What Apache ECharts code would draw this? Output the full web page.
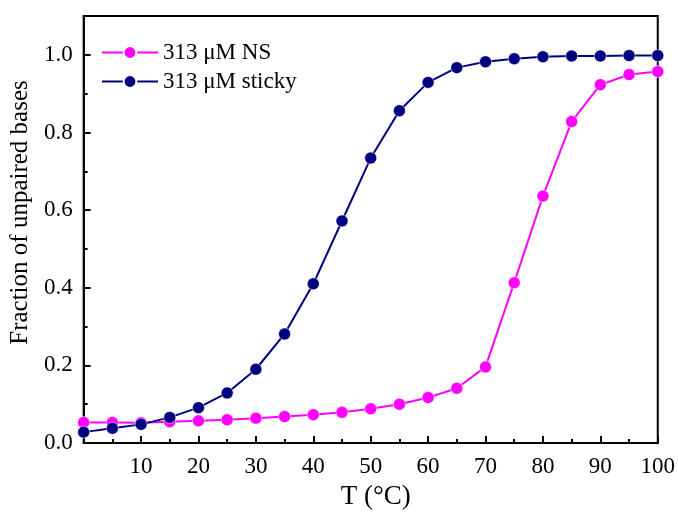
<!DOCTYPE html>
<html>
<head>
<meta charset="UTF-8">
<title>melting curves</title>
<script src="https://cdn.jsdelivr.net/npm/echarts@6/dist/echarts.min.js"></script>
<style>
  html, body { margin: 0; padding: 0; background: #fff; }
  #content { width: 678px; height: 515px; }
</style>
</head>
<body>
<div id="content"></div>
<script>
// temperatures (°C)
var temps = [0, 5, 10, 15, 20, 25, 30, 35, 40, 45, 50, 55, 60, 65, 70, 75, 80, 85, 90, 95, 100];
// fraction of unpaired bases
var nsVals = [0.053, 0.053, 0.052, 0.055, 0.057, 0.060, 0.064, 0.068, 0.073, 0.079, 0.088, 0.100, 0.117, 0.141, 0.196, 0.413, 0.636, 0.828, 0.923, 0.949, 0.957];
var stickyVals = [0.028, 0.038, 0.048, 0.066, 0.091, 0.129, 0.190, 0.281, 0.410, 0.572, 0.734, 0.856, 0.929, 0.967, 0.982, 0.990, 0.995, 0.997, 0.997, 0.998, 0.998];
var seriesNames = ['313 \u03bcM NS', '313 \u03bcM sticky'];
var seriesColors = ['#ff00ff', '#000080'];

function pairs(xs, ys) {
    var out = [];
    for (var i = 0; i < xs.length; i++) out.push([xs[i], ys[i]]);
    return out;
}

var myChart = echarts.init(document.getElementById('content'));
var font = 'Liberation Serif';

function makeSeries(name, color, vals) {
    return {
        name: name,
        type: 'line',
        data: pairs(temps, vals),
        symbol: 'circle',
        symbolSize: 12,
        lineStyle: { color: color, width: 2 },
        itemStyle: { color: color, borderColor: '#fff', borderWidth: 0.5 },
        emphasis: { disabled: true },
        z: name === seriesNames[1] ? 3 : 2
    };
}

var option = {
    animation: false,
    grid: {
        left: 79, right: 19, top: 16, bottom: 64,
        show: true, borderColor: '#000', borderWidth: 2,
        containLabel: false
    },
    legend: {
        data: seriesNames,
        left: 96, top: 36,
        orient: 'vertical',
        itemWidth: 56, itemHeight: 16,
        itemGap: 6,
        textStyle: { fontFamily: font, fontSize: 23, color: '#000' }
    },
    xAxis: {
        type: 'value',
        min: 0, max: 100, interval: 10,
        name: 'T (\u00b0C)',
        nameLocation: 'middle',
        nameGap: 40,
        nameTextStyle: { fontFamily: font, fontSize: 27, color: '#000', padding: [0, 0, 0, 10] },
        axisLine: { lineStyle: { color: '#000', width: 2 } },
        axisTick: { inside: true, length: 7, lineStyle: { color: '#000', width: 2 } },
        minorTick: { show: true, splitNumber: 2, length: 4, lineStyle: { color: '#000', width: 2 } },
        splitLine: { show: false },
        axisLabel: {
            fontFamily: font, fontSize: 23, color: '#000', margin: 12,
            formatter: function (v) { return v === 0 ? '' : String(v); }
        }
    },
    yAxis: {
        type: 'value',
        min: 0, max: 1.1, interval: 0.2,
        name: 'Fraction of unpaired bases',
        nameLocation: 'middle',
        nameGap: 42,
        nameTextStyle: { fontFamily: font, fontSize: 25, color: '#000', padding: [0, 0, 0, 34] },
        axisLine: { lineStyle: { color: '#000', width: 2 } },
        axisTick: { inside: true, length: 7, lineStyle: { color: '#000', width: 2 } },
        minorTick: { show: true, splitNumber: 2, length: 4, lineStyle: { color: '#000', width: 2 } },
        splitLine: { show: false },
        axisLabel: {
            fontFamily: font, fontSize: 23, color: '#000', margin: 11,
            formatter: function (v) { return v > 1.05 ? '' : v.toFixed(1); }
        }
    },
    series: [
        makeSeries(seriesNames[0], seriesColors[0], nsVals),
        makeSeries(seriesNames[1], seriesColors[1], stickyVals)
    ]
};

myChart.setOption(option);
</script>
</body>
</html>
